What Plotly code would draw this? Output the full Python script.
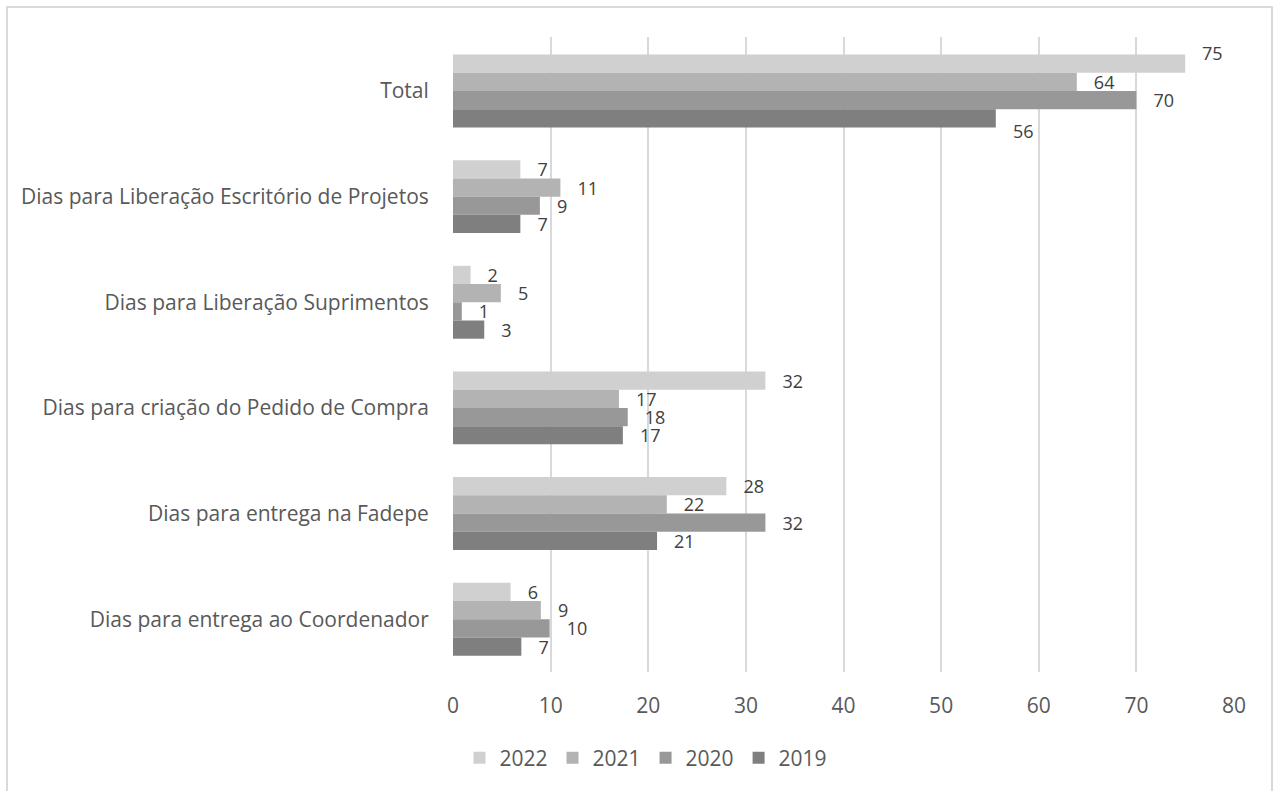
import plotly.graph_objects as go

categories = [
    "Total",
    "Dias para Liberação Escritório de Projetos",
    "Dias para Liberação Suprimentos",
    "Dias para criação do Pedido de Compra",
    "Dias para entrega na Fadepe",
    "Dias para entrega ao Coordenador",
]
series_names = ["2022", "2021", "2020", "2019"]
v2022 = [75.0, 6.9, 1.8, 32.0, 28.0, 5.9]
v2021 = [63.9, 11.0, 4.9, 17.0, 21.9, 9.0]
v2020 = [70.0, 8.9, 0.9, 17.9, 32.0, 9.9]
v2019 = [55.6, 6.9, 3.2, 17.4, 20.9, 7.0]
colors = ["#d0d0d0", "#b3b3b3", "#989898", "#7f7f7f"]
x_ticks = [0, 10, 20, 30, 40, 50, 60, 70, 80]

FONT = "Open Sans"
W, H = 1274, 791
L, R, T, B = 453, 40, 37, 119
pw, ph = W - L - R, H - T - B
PAD = "\u00a0\u00a0\u00a0"
LABEL_FONT = dict(family=FONT, size=18, color="#404040")

# labels that the original chart nudged off their bars (series, category) -> vertical shift px
shifted = {("2022", 0): 38, ("2019", 0): -40}

fig = go.Figure()
annotations = []
for name, vals, col in zip(series_names, [v2022, v2021, v2020, v2019], colors):
    texts = []
    for i, v in enumerate(vals):
        if (name, i) in shifted:
            texts.append("")
            annotations.append(dict(x=v, y=categories[i], xref="x", yref="y",
                                    text=f"{v:.0f}", showarrow=False, xanchor="left",
                                    xshift=15, yshift=shifted[(name, i)], font=LABEL_FONT))
        else:
            texts.append(f"{PAD}{v:.0f}")
    fig.add_trace(go.Bar(
        y=categories, x=vals, name=name, orientation="h",
        marker=dict(color=col, line=dict(width=0)),
        text=texts, textposition="outside",
        textfont=LABEL_FONT,
        constraintext="none",
        cliponaxis=False,
    ))

fig.update_layout(
    width=W, height=H,
    margin=dict(l=L, r=R, t=T, b=B, pad=0),
    barmode="group", bargap=0.31, bargroupgap=0,
    plot_bgcolor="white", paper_bgcolor="white",
    font=dict(family=FONT, color="#595959"),
    xaxis=dict(range=[0, 80], tickvals=x_ticks, showgrid=True, gridcolor="#d9d9d9",
               gridwidth=2, zeroline=False, showline=False,
               ticks="outside", ticklen=15, tickcolor="rgba(0,0,0,0)",
               tickfont=dict(size=21, color="#595959")),
    yaxis=dict(autorange="reversed", showgrid=False, showline=False,
               ticks="outside", ticklen=19, tickcolor="rgba(0,0,0,0)",
               tickfont=dict(size=21, color="#595959")),
    showlegend=True,
    legend=dict(orientation="h", x=(646 - L) / pw, xanchor="center",
                y=(H - B - 758) / ph, yanchor="middle",
                font=dict(size=21, color="#595959"), traceorder="normal",
                itemwidth=30),
    annotations=annotations,
    shapes=[dict(type="rect", xref="paper", yref="paper",
                 x0=(7 - L) / pw, x1=(1272 - L) / pw,
                 y0=(H - B - 820) / ph, y1=(H - B - 7) / ph,
                 line=dict(color="#d9d9d9", width=2), fillcolor="rgba(0,0,0,0)", layer="below")],
)
fig.write_html("out.html")
